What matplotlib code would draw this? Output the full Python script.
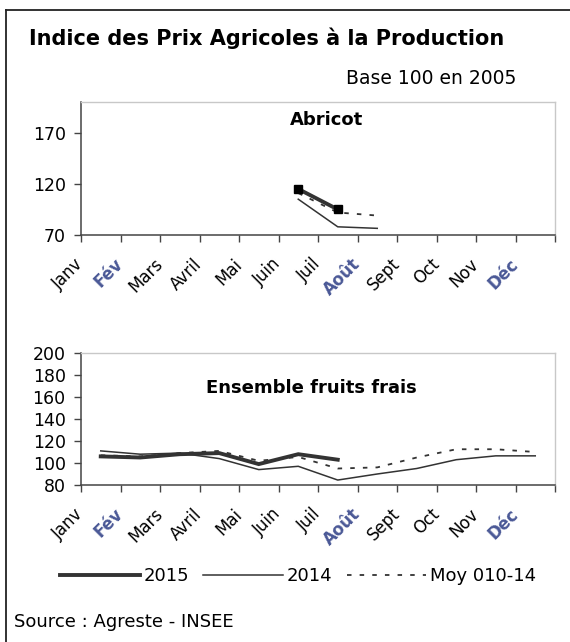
import matplotlib
matplotlib.use("Agg")
import matplotlib.pyplot as plt
from matplotlib.lines import Line2D

plt.rcParams['font.family'] = ['DejaVu Sans']

mois = ['Janv', 'Fév', 'Mars', 'Avril', 'Mai', 'Juin', 'Juil', 'Août', 'Sept', 'Oct', 'Nov', 'Déc']
mois_flous = ['Fév', 'Août', 'Déc']

# Abricot (Juin -> Août)
abricot_2015 = [None, None, None, None, None, 115, 95, None, None, None, None, None]
abricot_2014 = [None, None, None, None, None, 105, 78, 76.5, None, None, None, None]
abricot_moy = [None, None, None, None, None, 111, 92, 89, None, None, None, None]

# Ensemble fruits frais
fruits_2015 = [106, 105, 108, 109, 99, 108, 103, None, None, None, None, None]
fruits_2014 = [111, 108, 109, 104, 94, 97, 84.5, 90, 95, 103, 106.5, 106.5]
fruits_moy = [107, 106, 109, 111, 102, 105.5, 95, 96, 105, 112.5, 112.5, 110]

W, H = 570, 642
fig = plt.figure(figsize=(W / 100, H / 100), dpi=100)

# cadre (haut + gauche)
fig.add_artist(Line2D([5.7 / W, 1], [1 - 9.5 / H, 1 - 9.5 / H], color='#222222', lw=1.3))
fig.add_artist(Line2D([5.7 / W, 5.7 / W], [1 - 9.5 / H, 0], color='#222222', lw=1.3))

fig.text(29 / W, 1 - 38 / H, 'Indice des Prix Agricoles à la Production',
         fontsize=15, fontweight='bold', va='center', ha='left')
fig.text(516 / W, 1 - 78 / H, 'Base 100 en 2005', fontsize=13.5, va='center', ha='right')

TIRETS = (0, (2.5, 4.5))


def serie(vals):
    xs = [i for i, v in enumerate(vals) if v is not None]
    ys = [v for v in vals if v is not None]
    return xs, ys


def panneau(rect, s2015, s2014, smoy, ylim, yticks, titre, tpos, marqueurs):
    ax = fig.add_axes(rect)
    x, y = serie(smoy)
    ax.plot(x, y, color='#333333', lw=1.3, ls=TIRETS)
    x, y = serie(s2014)
    ax.plot(x, y, color='#333333', lw=1.1)
    x, y = serie(s2015)
    ax.plot(x, y, color='#333333', lw=2.8, marker='s' if marqueurs else None,
            ms=6, mfc='black', mec='black', solid_joinstyle='miter')
    ax.set_xlim(-0.5, 11.5)
    ax.set_ylim(*ylim)
    ax.set_yticks(yticks)
    ax.set_xticks([i - 0.5 for i in range(13)])
    ax.set_xticklabels(mois + [''], rotation=45, ha='right', va='center',
                       rotation_mode='anchor')
    for lab in ax.get_xticklabels():
        if lab.get_text() in mois_flous:
            lab.set_color('#4a5896')
            lab.set_fontweight('bold')
    ax.tick_params(axis='x', length=5, width=1, color='#444444', labelsize=12, pad=14)
    ax.tick_params(axis='y', length=5, width=1, color='#444444', labelsize=12.5, pad=6)
    for s in ['left', 'bottom']:
        ax.spines[s].set_color('#444444')
        ax.spines[s].set_linewidth(1.1)
    for s in ['top', 'right']:
        ax.spines[s].set_color('#c8c8c8')
        ax.spines[s].set_linewidth(1.0)
    ax.text(tpos[0], tpos[1], titre, transform=ax.transAxes, fontsize=13,
            fontweight='bold', ha='center', va='center')
    return ax


panneau([81 / W, 1 - 235 / H, 474 / W, 133 / H], abricot_2015, abricot_2014, abricot_moy,
        (70, 200), [70, 120, 170], 'Abricot', ((327 - 81) / 474, (235 - 120) / 133), True)
panneau([81 / W, 1 - 485 / H, 474 / W, 132 / H], fruits_2015, fruits_2014, fruits_moy,
        (80, 200), list(range(80, 201, 20)), 'Ensemble fruits frais',
        ((311 - 81) / 474, (485 - 388) / 132), False)

poignees = [Line2D([], [], color='#333333', lw=2.8),
            Line2D([], [], color='#333333', lw=1.1),
            Line2D([], [], color='#333333', lw=1.3, ls=TIRETS)]
fig.legend(poignees, ['2015', '2014', 'Moy 010-14'], ncol=3, frameon=False,
           loc='center', bbox_to_anchor=(298 / W, 1 - 576 / H), fontsize=13,
           handlelength=4.4, handletextpad=0.2, columnspacing=0.8)

fig.text(14.5 / W, 1 - 622 / H, 'Source : Agreste - INSEE', fontsize=13, va='center', ha='left')

fig.savefig('out.png', dpi=100)
